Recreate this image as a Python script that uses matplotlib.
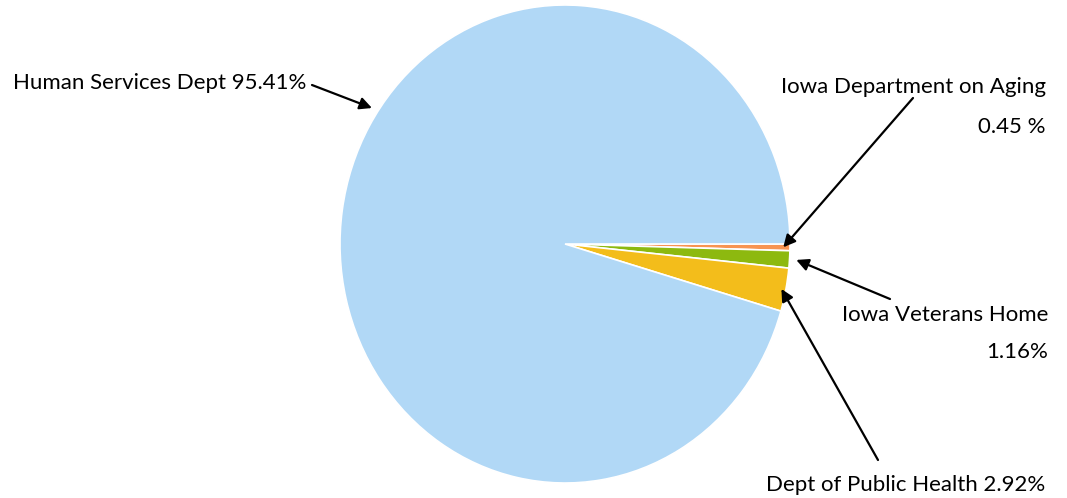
import numpy as np
import matplotlib.pyplot as plt

# departments in clockwise order starting at 3 o'clock
departments = ['Iowa Department on Aging', 'Iowa Veterans Home',
               'Dept of Public Health', 'Human Services Dept']
shares = [0.45, 1.16, 2.92, 95.41]
colors = ['#F79452', '#8DB90F', '#F3BD1B', '#B1D8F6']

W, H = 1067, 498
plt.rcParams['font.family'] = ['Lato', 'DejaVu Sans']

fig = plt.figure(figsize=(W / 100, H / 100), dpi=100)
# pie is slightly taller than wide in the original
ax = fig.add_axes([340 / W, 15 / H, 450 / W, 478 / H])
wedges, _ = ax.pie(shares, colors=colors, startangle=0, counterclock=False,
                   radius=1, wedgeprops=dict(edgecolor='white', linewidth=1.2))
ax.set_aspect('auto')
ax.set_xlim(-1, 1)
ax.set_ylim(-1, 1)


def tip(w, r):
    # point on the wedge bisector at radius r
    a = np.deg2rad((w.theta1 + w.theta2) / 2)
    return (r * np.cos(a), r * np.sin(a))


arrow = dict(arrowstyle='-|>', color='black', lw=1.6, mutation_scale=18,
             shrinkA=0, shrinkB=0)

def px(x, y):
    return (x, H - y)

# arrows from label to slice
ax.annotate('', xy=(-0.858, 0.569), xytext=px(312, 85),
            textcoords='figure pixels', arrowprops=arrow, annotation_clip=False)
ax.annotate('', xy=tip(wedges[0], 0.97), xytext=px(913, 98),
            textcoords='figure pixels', arrowprops=arrow, annotation_clip=False)
ax.annotate('', xy=tip(wedges[1], 1.03), xytext=px(890, 299),
            textcoords='figure pixels', arrowprops=arrow, annotation_clip=False)
ax.annotate('', xy=tip(wedges[2], 0.98), xytext=px(878, 460),
            textcoords='figure pixels', arrowprops=arrow, annotation_clip=False)

fs = 16
fig.text(13 / W, 1 - 83 / H, f'{departments[3]} {shares[3]:.2f}%',
         ha='left', va='center', fontsize=fs)
fig.text(1046 / W, 1 - 87 / H, departments[0], ha='right', va='center', fontsize=fs)
fig.text(1046 / W, 1 - 127 / H, f'{shares[0]:.2f} %', ha='right', va='center', fontsize=fs)
fig.text(1048 / W, 1 - 315 / H, departments[1], ha='right', va='center', fontsize=fs)
fig.text(1048 / W, 1 - 352 / H, f'{shares[1]:.2f}%', ha='right', va='center', fontsize=fs)
fig.text(1045 / W, 1 - 485 / H, f'{departments[2]} {shares[2]:.2f}%',
         ha='right', va='center', fontsize=fs)

fig.savefig('out.png', dpi=100)
